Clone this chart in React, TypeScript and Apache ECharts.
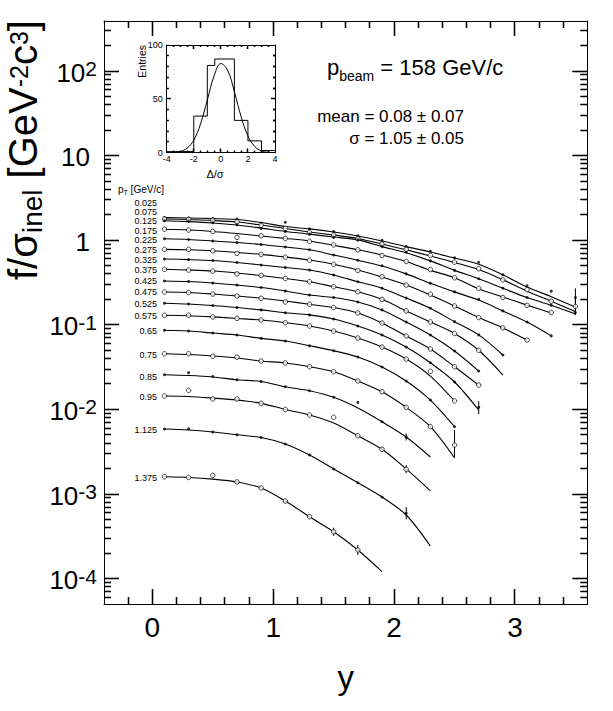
import React, { useEffect, useRef } from 'react';
import * as echarts from 'echarts';

// ---------- data ----------
const rapidity = [0.1, 0.3, 0.5, 0.7, 0.9, 1.1, 1.3, 1.5, 1.7, 1.9, 2.1, 2.3, 2.5, 2.7, 2.9, 3.1, 3.3, 3.5];
const ptBins = ['0.025', '0.075', '0.125', '0.175', '0.225', '0.275', '0.325', '0.375', '0.425', '0.475', '0.525', '0.575', '0.65', '0.75', '0.85', '0.95', '1.125', '1.375'];

// fitted curves f/sigma_inel, one per pT bin
const fit025 = [1.85, 1.83, 1.8, 1.76, 1.62, 1.45, 1.36, 1.25, 1.12, 0.98, 0.84, 0.725, 0.615, 0.52, 0.39, 0.28, 0.215, 0.162];
const fit075 = [1.78, 1.76, 1.71, 1.64, 1.51, 1.375, 1.25, 1.15, 1.05, 0.9, 0.77, 0.65, 0.545, 0.45, 0.34, 0.25, 0.19, 0.144];
const fit125 = [1.7, 1.66, 1.6, 1.51, 1.39, 1.27, 1.18, 1.09, 1.01, 0.84, 0.71, 0.57, 0.44, 0.35, 0.27, 0.21, 0.17, 0.134];
const fit175 = [1.345, 1.32, 1.27, 1.2, 1.12, 1.05, 0.98, 0.87, 0.77, 0.67, 0.56, 0.44, 0.36, 0.265, 0.213, 0.171, 0.138];
const fit225 = [1.04, 1.02, 0.98, 0.94, 0.89, 0.83, 0.77, 0.67, 0.58, 0.495, 0.4, 0.31, 0.245, 0.196, 0.146, 0.108, 0.074];
const fit275 = [0.78, 0.77, 0.75, 0.715, 0.68, 0.633, 0.583, 0.52, 0.444, 0.367, 0.295, 0.225, 0.167, 0.122, 0.092, 0.066];
const fit325 = [0.6, 0.59, 0.575, 0.545, 0.51, 0.476, 0.444, 0.388, 0.323, 0.27, 0.207, 0.157, 0.109, 0.076, 0.044];
const fit375 = [0.453, 0.444, 0.432, 0.41, 0.383, 0.353, 0.323, 0.282, 0.246, 0.2, 0.146, 0.108, 0.079, 0.05, 0.0255];
const fit425 = [0.33, 0.325, 0.312, 0.295, 0.276, 0.251, 0.225, 0.21, 0.186, 0.15, 0.108, 0.0758, 0.049, 0.0284];
const fit475 = [0.244, 0.241, 0.231, 0.219, 0.206, 0.191, 0.175, 0.16, 0.138, 0.105, 0.0737, 0.0518, 0.032, 0.0194];
const fit525 = [0.18, 0.176, 0.169, 0.16, 0.15, 0.139, 0.131, 0.117, 0.0968, 0.0758, 0.0546, 0.0356, 0.0211, 0.00984];
const fit575 = [0.1295, 0.128, 0.124, 0.119, 0.114, 0.106, 0.0968, 0.0845, 0.0698, 0.0546, 0.0394, 0.0248, 0.0126];
const fit650 = [0.0861, 0.0845, 0.08, 0.0758, 0.0692, 0.0643, 0.0566, 0.0494, 0.0416, 0.0317, 0.0217, 0.0129, 0.00625];
const fit750 = [0.0455, 0.0446, 0.0428, 0.0405, 0.0373, 0.0354, 0.032, 0.0279, 0.0217, 0.0162, 0.0106, 0.00625, 0.00267];
const fit850 = [0.0257, 0.0252, 0.0242, 0.0224, 0.0214, 0.0185, 0.0166, 0.0139, 0.0104, 0.00716, 0.00472, 0.00274];
const fit950 = [0.0144, 0.0142, 0.0136, 0.0129, 0.0118, 0.01, 0.00859, 0.00691, 0.00489, 0.00338, 0.00198, 0.00109];
const fit1125 = [0.00587, 0.00571, 0.00541, 0.00502, 0.00465, 0.0039, 0.00289, 0.00198, 0.00136, 0.000922, 0.000565, 0.000243];
const fit1375 = [0.0016, 0.00157, 0.0015, 0.00139, 0.00118, 0.000827, 0.000539, 0.000358, 0.000218, 0.000121];

// measured points
const meas025 = [1.85, 1.83, 1.8, 1.78, 1.6, 1.63, 1.36, 1.27, 1.13, 1.0, 0.84, 0.74, 0.62, 0.55, 0.39, 0.29, 0.25, 0.21];
const meas075 = [1.78, 1.76, 1.72, 1.65, 1.5, 1.38, 1.24, 1.15, 1.04, 0.9, 0.78, 0.66, 0.55, 0.46, 0.34, 0.26, 0.19, 0.165];
const meas125 = [1.7, 1.67, 1.61, 1.52, 1.38, 1.27, 1.18, 1.08, 1.01, 0.84, 0.72, 0.57, 0.44, 0.35, 0.27, 0.21, 0.17, 0.14];
const meas175 = [1.35, 1.32, 1.27, 1.08, 1.13, 1.05, 0.97, 0.88, 0.77, 0.66, 0.56, 0.45, 0.36, 0.27, 0.21, 0.17, 0.14];
const meas225 = [1.04, 1.02, 0.98, 0.94, 0.89, 0.83, 0.77, 0.67, 0.58, 0.5, 0.4, 0.31, 0.245, 0.2, 0.146, 0.108, 0.074];
const meas275 = [0.78, 0.78, 0.75, 0.7, 0.68, 0.63, 0.58, 0.52, 0.44, 0.37, 0.295, 0.23, 0.167, 0.122, 0.092, 0.066];
const meas325 = [0.6, 0.59, 0.575, 0.545, 0.51, 0.476, 0.444, 0.388, 0.323, 0.27, 0.207, 0.157, 0.109, 0.076, 0.044];
const meas375 = [0.453, 0.444, 0.432, 0.4, 0.383, 0.353, 0.323, 0.282, 0.246, 0.2, 0.146, 0.108, 0.079, 0.05];
const meas425 = [0.33, 0.325, 0.312, 0.295, 0.276, 0.251, 0.225, 0.21, 0.186, 0.15, 0.108, 0.0758, 0.049, 0.0284];
const meas475 = [0.244, 0.241, 0.231, 0.219, 0.206, 0.186, 0.175, 0.16, 0.138, 0.105, 0.0737, 0.0518, 0.032, 0.0194];
const meas525 = [0.18, 0.176, 0.169, 0.16, 0.15, 0.139, 0.131, 0.117, 0.0968, 0.0758, 0.0546, 0.0356, 0.0211, 0.0106];
const meas575 = [0.1295, 0.13, 0.124, 0.119, 0.114, 0.106, 0.0968, 0.0845, 0.0698, 0.0546, 0.0394, 0.0282, 0.0126];
const meas650 = [0.0861, 0.0845, 0.08, 0.0758, 0.0692, 0.0643, 0.0566, 0.0494, 0.0416, 0.0317, 0.0217, 0.0129, 0.00625];
const meas750 = [0.0455, 0.0455, 0.0425, 0.0415, 0.0373, 0.0354, 0.032, 0.0279, 0.0217, 0.0162, 0.0106, 0.00625, 0.00379];
const meas850 = [0.0257, 0.0272, 0.0245, 0.0224, 0.0214, 0.0185, 0.0166, 0.0139, 0.0121, 0.00716, 0.00472];
const meas950 = [0.0144, 0.0168, 0.0133, 0.0133, 0.0118, 0.01, 0.00859, 0.00806, 0.00489, 0.00338, 0.00196];
const meas1125 = [0.00587, 0.0059, 0.00541, 0.00502, 0.00465, 0.0039, 0.00289, 0.00198, 0.00136, 0.000922, 0.000591];
const meas1375 = [0.0016, 0.00157, 0.00166, 0.00139, 0.00118, 0.000827, 0.000539, 0.000358, 0.000218];

const fitCurves = [fit025, fit075, fit125, fit175, fit225, fit275, fit325, fit375, fit425, fit475, fit525, fit575, fit650, fit750, fit850, fit950, fit1125, fit1375];
const measured = [meas025, meas075, meas125, meas175, meas225, meas275, meas325, meas375, meas425, meas475, meas525, meas575, meas650, meas750, meas850, meas950, meas1125, meas1375];

// visible error bars
const errRapidity = [3.5, 3.5, 2.7, 2.5, 2.1, 2.1, 2.1, 1.5, 1.7];
const errLow = [0.15, 0.13, 0.0088, 0.0027, 0.0043, 0.00177, 0.0005, 0.00032, 0.00019];
const errHigh = [0.27, 0.2, 0.0125, 0.0057, 0.0052, 0.0022, 0.0007, 0.0004, 0.00025];

// axis tick labels
const yTickValues = [1e-4, 1e-3, 1e-2, 1e-1, 1, 10, 100];
const xTickValues = [0, 1, 2, 3];
const insetXTicks = [-4, -2, 0, 2, 4];
const insetYTicks = [0, 50, 100];

// inset: pull distribution
const histEdges = [-4, -2, -1, -0.45, 1, 2, 3, 4];
const histCounts = [1, 34, 81, 87, 30, 11, 2];
const gaussX = [-4, -3.5, -3, -2.5, -2, -1.5, -1, -0.5, 0, 0.5, 1, 1.5, 2, 2.5, 3, 3.5, 4];
const gaussY = [0.03, 0.2, 1.1, 4.1, 11.7, 26.7, 48.9, 71.3, 82.8, 76.6, 56.5, 33.3, 15.6, 5.8, 1.7, 0.4, 0.07];

const beamText = '158 GeV/c';
const meanText = '0.08 ± 0.07';
const sigmaText = '1.05 ± 0.05';

// ---------- layout ----------
const FONT = '"Liberation Sans", Arial, Helvetica, sans-serif';
const W = 613;
const H = 711;
const X_MIN = -0.4;
const X_MAX = 3.6;
const Y_MIN = 5e-5;
const Y_MAX = 390;
const IX_MIN = -4;
const IX_MAX = 4;
const IY_MIN = 0;
const IY_MAX = 100;
const MAIN_RECT = { left: 104, top: 21, right: 25.5, bottom: 106.9 };
const INSET_RECT = { left: 166.7, top: 45, width: 108.3, height: 107.7 };
const ptLabelY = [202.5, 211.7, 220.8, 230.8, 239.7, 249.7, 260.3, 270.3, 281.3, 292, 304.2, 315.8, 331, 354.5, 376.5, 397, 430.3, 477.8];
const black = '#000';
const TICK_WIDTH = 1.3;

// side: 'b' bottom, 't' top, 'l' left, 'r' right; (x, y) is an interior point on the tick's line
type TickSpec = { x: number; y: number; len: number; side: string };

function buildMainTicks(): TickSpec[] {
  const out: TickSpec[] = [];
  for (let k = -1; k <= 17; k++) {
    const v = Math.round(k * 2) / 10;
    const len = Math.abs(v - Math.round(v)) < 1e-6 ? 15 : 7;
    out.push({ x: v, y: 1, len, side: 'b' });
    out.push({ x: v, y: 1, len, side: 't' });
  }
  for (let e = -5; e <= 2; e++) {
    for (let m = 1; m <= 9; m++) {
      const v = parseFloat((m * Math.pow(10, e)).toPrecision(3));
      if (v > Y_MIN && v < Y_MAX) {
        const len = m === 1 ? 15 : 7;
        out.push({ x: 1, y: v, len, side: 'l' });
        out.push({ x: 1, y: v, len, side: 'r' });
      }
    }
  }
  return out;
}
function buildInsetTicks(): TickSpec[] {
  const out: TickSpec[] = [];
  for (let k = -7; k <= 7; k++) {
    const v = k * 0.5;
    const len = k % 4 === 0 ? 4 : 2;
    out.push({ x: v, y: 50, len, side: 'b' });
    out.push({ x: v, y: 50, len, side: 't' });
  }
  for (let k = 1; k <= 9; k++) {
    const len = k === 5 ? 4 : 2;
    out.push({ x: 0, y: k * 10, len, side: 'l' });
    out.push({ x: 0, y: k * 10, len, side: 'r' });
  }
  return out;
}

const snap = (v: number) => Math.round(v - 0.5) + 0.5;

function tickShape(t: TickSpec, p: number[], rect: { x: number; y: number; width: number; height: number }) {
  if (t.side === 'b' || t.side === 't') {
    const x = snap(p[0]);
    const y0 = t.side === 'b' ? rect.y + rect.height : rect.y;
    const y1 = t.side === 'b' ? y0 - t.len : y0 + t.len;
    return { x1: x, y1: y0, x2: x, y2: y1 };
  }
  const y = snap(p[1]);
  const x0 = t.side === 'l' ? rect.x : rect.x + rect.width;
  const x1 = t.side === 'l' ? x0 + t.len : x0 - t.len;
  return { x1: x0, y1: y, x2: x1, y2: y };
}

function makeTickRenderer(specs: TickSpec[]) {
  return (params: any, api: any) => {
    const t = specs[params.dataIndex];
    const cs = params.coordSys;
    if (!t || !cs) return null;
    const p = api.coord([t.x, t.y]);
    if (!p || !isFinite(p[0]) || !isFinite(p[1])) return null;
    return {
      type: 'line',
      shape: tickShape(t, p, cs),
      style: { stroke: black, lineWidth: TICK_WIDTH },
    };
  };
}

function yLabelFormatter(v: number): string {
  const e = Math.round(Math.log10(v));
  if (e === 0) return '{p|1}';
  if (e === 1) return '{p|10}';
  return '{b|10}{s|' + String(e) + '}';
}

function txt(x: number, y: number, text: string, extra: any = {}, rich?: any, rotation = 0): any {
  const st: any = {
    text,
    fill: black,
    fontFamily: FONT,
    align: extra.align || 'left',
    verticalAlign: extra.verticalAlign || 'middle',
    fontSize: extra.fontSize || 12,
  };
  if (rich) st.rich = rich;
  return { type: 'text', x, y, rotation, style: st, silent: true, z: 100 };
}

export default function App() {
  const ref = useRef<HTMLDivElement>(null);

  useEffect(() => {
    if (!ref.current) return;
    const chart = echarts.init(ref.current, null, { renderer: 'svg', width: W, height: H });

    const frameLine = { show: true, onZero: false, lineStyle: { color: black, width: 1 } };
    const noTick = { show: false };

    const mainGrid = { ...MAIN_RECT, containLabel: false, outerBoundsMode: 'none' };
    const insetGrid = { ...INSET_RECT, containLabel: false, outerBoundsMode: 'none' };

    const xAxis: any[] = [
      {
        type: 'value', gridIndex: 0, min: X_MIN, max: X_MAX, position: 'bottom',
        axisLine: frameLine, splitLine: { show: false }, axisTick: noTick,
        axisLabel: { show: true, customValues: xTickValues, fontSize: 28, margin: 9, color: black, fontFamily: FONT },
        name: 'y', nameLocation: 'middle', nameGap: 57,
        nameTextStyle: { fontSize: 33, color: black, fontFamily: FONT },
      },
      {
        type: 'value', gridIndex: 0, min: X_MIN, max: X_MAX, position: 'top',
        axisLine: frameLine, splitLine: { show: false }, axisTick: noTick, axisLabel: { show: false },
      },
      {
        type: 'value', gridIndex: 1, min: IX_MIN, max: IX_MAX, position: 'bottom',
        axisLine: frameLine, splitLine: { show: false }, axisTick: noTick,
        axisLabel: { show: true, customValues: insetXTicks, fontSize: 9, margin: 2, color: black, fontFamily: FONT },
      },
      {
        type: 'value', gridIndex: 1, min: IX_MIN, max: IX_MAX, position: 'top',
        axisLine: frameLine, splitLine: { show: false }, axisTick: noTick, axisLabel: { show: false },
      },
    ];
    const yAxis: any[] = [
      {
        type: 'log', logBase: 10, gridIndex: 0, min: Y_MIN, max: Y_MAX, position: 'left',
        axisLine: frameLine, splitLine: { show: false }, axisTick: noTick, minorTick: { show: false },
        axisLabel: {
          show: true, customValues: yTickValues, margin: 7, color: black, fontFamily: FONT,
          formatter: yLabelFormatter,
          rich: {
            p: { fontSize: 26, lineHeight: 26, padding: [3, 7, 0, 0], color: black, fontFamily: FONT },
            b: { fontSize: 26, lineHeight: 26, padding: [3, 0, 0, 0], color: black, fontFamily: FONT },
            s: { fontSize: 21, lineHeight: 21, verticalAlign: 'top', color: black, fontFamily: FONT },
          },
        },
      },
      {
        type: 'log', logBase: 10, gridIndex: 0, min: Y_MIN, max: Y_MAX, position: 'right',
        axisLine: frameLine, splitLine: { show: false }, axisTick: noTick, minorTick: { show: false },
        axisLabel: { show: false },
      },
      {
        type: 'value', gridIndex: 1, min: IY_MIN, max: IY_MAX, position: 'left',
        axisLine: frameLine, splitLine: { show: false }, axisTick: noTick,
        axisLabel: { show: true, customValues: insetYTicks, fontSize: 9, margin: 4, color: black, fontFamily: FONT },
      },
      {
        type: 'value', gridIndex: 1, min: IY_MIN, max: IY_MAX, position: 'right',
        axisLine: frameLine, splitLine: { show: false }, axisTick: noTick, axisLabel: { show: false },
      },
    ];

    const mainTicks = buildMainTicks();
    const insetTicks = buildInsetTicks();

    const series: any[] = [];
    fitCurves.forEach((fit) => {
      series.push({
        type: 'line', xAxisIndex: 0, yAxisIndex: 0,
        data: fit.map((v, k) => [rapidity[k], v]),
        showSymbol: false, symbol: 'none', smooth: 0.3, silent: true, z: 2,
        lineStyle: { color: black, width: 1.1 },
      });
    });
    measured.forEach((m, i) => {
      const open = i % 2 === 1;
      series.push({
        type: 'scatter', xAxisIndex: 0, yAxisIndex: 0,
        data: m.map((v, k) => [rapidity[k], v]),
        symbol: 'circle', symbolSize: open ? 4.5 : 3, silent: true, z: 4,
        itemStyle: open ? { color: '#fff', borderColor: black, borderWidth: 0.9 } : { color: black },
      });
    });
    series.push({
      type: 'custom', xAxisIndex: 0, yAxisIndex: 0, silent: true, z: 3,
      data: errRapidity.map((x, i) => [x, errLow[i], errHigh[i]]),
      encode: { x: 0, y: [1, 2] },
      renderItem: (params: any, api: any) => {
        const x = api.value(0);
        const p1 = api.coord([x, api.value(1)]);
        const p2 = api.coord([x, api.value(2)]);
        return {
          type: 'line',
          shape: { x1: p1[0], y1: p1[1], x2: p2[0], y2: p2[1] },
          style: { stroke: black, lineWidth: 1 },
        };
      },
    });
    // frame ticks, main plot (interior anchor points, frame edge from the coordinate system)
    series.push({
      type: 'custom', xAxisIndex: 0, yAxisIndex: 0, silent: true, z: 5,
      data: mainTicks.map((t) => [t.x, t.y]), encode: { x: 0, y: 1 },
      renderItem: makeTickRenderer(mainTicks),
    });
    // inset histogram and gaussian
    series.push({
      type: 'line', xAxisIndex: 2, yAxisIndex: 2, step: 'end', silent: true,
      data: histEdges.map((x, i) => [x, histCounts[Math.min(i, histCounts.length - 1)]]),
      showSymbol: false, symbol: 'none', lineStyle: { color: black, width: 1 },
    });
    series.push({
      type: 'line', xAxisIndex: 2, yAxisIndex: 2, smooth: 0.4, silent: true,
      data: gaussX.map((x, i) => [x, gaussY[i]]),
      showSymbol: false, symbol: 'none', lineStyle: { color: black, width: 1 },
    });
    series.push({
      type: 'custom', xAxisIndex: 2, yAxisIndex: 2, silent: true, z: 5,
      data: insetTicks.map((t) => [t.x, t.y]), encode: { x: 0, y: 1 },
      renderItem: makeTickRenderer(insetTicks),
    });

    const graphic: any[] = [];
    // y-axis title
    graphic.push(
      txt(26.5, 20, '{a|f/σ}{b|inel}{a| [GeV}{c|-2}{a|c}{c|3}{a|]}', { align: 'right' }, {
        a: { fontSize: 40, lineHeight: 40, padding: [0, 0, 8, 0], fontFamily: FONT, color: black },
        b: { fontSize: 28, lineHeight: 28, verticalAlign: 'bottom', fontFamily: FONT, color: black },
        c: { fontSize: 25, lineHeight: 25, verticalAlign: 'top', fontFamily: FONT, color: black },
      }, Math.PI / 2)
    );
    // beam momentum
    graphic.push(
      txt(327, 72, '{a|p}{s|beam}{a| = ' + beamText + '}', {}, {
        a: { fontSize: 22, lineHeight: 22, padding: [0, 0, 10, 0], fontFamily: FONT, color: black },
        s: { fontSize: 14, lineHeight: 14, verticalAlign: 'bottom', fontFamily: FONT, color: black },
      })
    );
    graphic.push(txt(464, 116, 'mean = ' + meanText, { align: 'right', fontSize: 17 }));
    graphic.push(txt(464, 138, 'σ = ' + sigmaText, { align: 'right', fontSize: 17 }));
    // pT header
    graphic.push(
      txt(118, 191, '{a|p}{s|T}{a| [GeV/c]}', {}, {
        a: { fontSize: 10, lineHeight: 10, padding: [0, 0, 4, 0], fontFamily: FONT, color: black },
        s: { fontSize: 7, lineHeight: 7, verticalAlign: 'bottom', fontFamily: FONT, color: black },
      })
    );
    ptBins.forEach((t, i) => {
      graphic.push(txt(157, ptLabelY[i], t, { align: 'right', fontSize: 9 }));
    });
    // inset titles
    graphic.push(txt(141.5, 45, 'Entries', { align: 'right', fontSize: 10.5 }, undefined, Math.PI / 2));
    graphic.push(txt(215, 174, 'Δ/σ', { align: 'center', fontSize: 11 }));

    chart.setOption({
      animation: false,
      backgroundColor: '#fff',
      textStyle: { fontFamily: FONT, color: black },
      grid: [mainGrid, insetGrid],
      xAxis,
      yAxis,
      series,
    });

    // second pass of the frame ticks through the axes' scales (interior anchor points)
    const tickLines: any[] = [];
    const mainFrame = {
      x: MAIN_RECT.left, y: MAIN_RECT.top,
      width: W - MAIN_RECT.left - MAIN_RECT.right, height: H - MAIN_RECT.top - MAIN_RECT.bottom,
    };
    const insetFrame = { x: INSET_RECT.left, y: INSET_RECT.top, width: INSET_RECT.width, height: INSET_RECT.height };
    const addTicks = (specs: TickSpec[], axisIdx: number, frame: any) => {
      specs.forEach((t) => {
        let p: any = null;
        try {
          p = chart.convertToPixel({ xAxisIndex: axisIdx, yAxisIndex: axisIdx }, [t.x, t.y]);
        } catch (e) {
          p = null;
        }
        if (!p || !isFinite(p[0]) || !isFinite(p[1])) return;
        tickLines.push({
          type: 'line', silent: true, z: 50,
          shape: tickShape(t, p, frame),
          style: { stroke: black, lineWidth: TICK_WIDTH },
        });
      });
    };
    addTicks(mainTicks, 0, mainFrame);
    addTicks(insetTicks, 2, insetFrame);

    chart.setOption({ graphic: [...graphic, ...tickLines] });

    return () => {
      chart.dispose();
    };
  }, []);

  return (
    <div
      ref={ref}
      style={{ position: 'fixed', left: 0, top: 0, width: W, height: H, background: '#fff' }}
    />
  );
}
